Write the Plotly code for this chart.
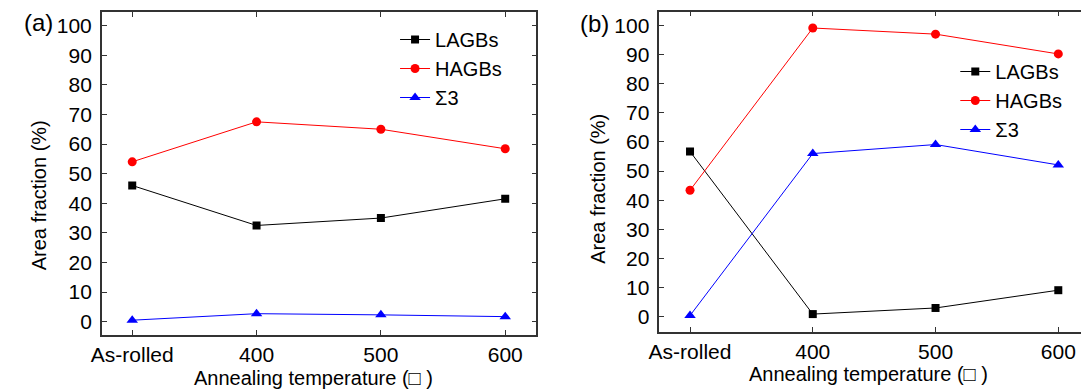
import plotly.graph_objects as go

categories = ["As-rolled", "400", "500", "600"]

a_lagbs = [46.0, 32.5, 35.0, 41.5]
a_hagbs = [54.0, 67.5, 65.0, 58.4]
a_sigma3 = [0.5, 2.7, 2.3, 1.7]

b_lagbs = [56.7, 0.9, 3.0, 9.1]
b_hagbs = [43.4, 99.1, 97.0, 90.2]
b_sigma3 = [0.4, 56.0, 59.1, 52.1]

yticks = [0, 10, 20, 30, 40, 50, 60, 70, 80, 90, 100]

W, H = 1081, 392
FONT = "Liberation Sans, Arial, sans-serif"

fig = go.Figure()

series = [
    ("LAGBs", "black", "square", 8),
    ("HAGBs", "red", "circle", 9),
    ("Σ3", "blue", "triangle-up", 10),
]

for (name, color, sym, ms), vals in zip(series, [a_lagbs, a_hagbs, a_sigma3]):
    fig.add_trace(go.Scatter(x=categories, y=vals, mode="lines+markers", name=name,
                             line=dict(color=color, width=1),
                             marker=dict(symbol=sym, size=ms, color=color),
                             xaxis="x", yaxis="y", legend="legend"))
for (name, color, sym, ms), vals in zip(series, [b_lagbs, b_hagbs, b_sigma3]):
    fig.add_trace(go.Scatter(x=categories, y=vals, mode="lines+markers", name=name,
                             line=dict(color=color, width=1),
                             marker=dict(symbol=sym, size=ms, color=color),
                             xaxis="x2", yaxis="y2", legend="legend2"))

axis_common = dict(showgrid=False, zeroline=False, showline=True, linecolor="#333",
                   linewidth=1.5, ticks="inside", ticklen=5, tickwidth=1.2, tickcolor="#333",
                   tickfont=dict(family=FONT, size=21, color="black"))

fig.update_layout(
    width=W, height=H,
    margin=dict(l=0, r=0, t=0, b=0),
    paper_bgcolor="white", plot_bgcolor="white",
    font=dict(family=FONT, size=20, color="black"),
    xaxis=dict(domain=[91.7 / W, 530.7 / W], anchor="y", type="category",
               range=[-0.245, 3.25], mirror="ticks", ticklabelstandoff=0, **axis_common),
    yaxis=dict(domain=[1 - 335 / H, 1 - 12 / H], anchor="x", range=[-4.5, 104.6],
               tickvals=yticks, mirror="ticks", ticklabelstandoff=4, **axis_common),
    xaxis2=dict(domain=[655 / W, 1.0], anchor="y2", type="category",
                range=[-0.25, 3.185], mirror="ticks", ticklabelstandoff=0, **axis_common),
    yaxis2=dict(domain=[1 - 332 / H, 1 - 11.7 / H], anchor="x2", range=[-5.25, 104.7],
                tickvals=yticks, mirror=False, ticklabelstandoff=4, **axis_common),
    legend=dict(x=388 / W, y=1 - 20 / H, xanchor="left", yanchor="top",
                bgcolor="rgba(0,0,0,0)", font=dict(family=FONT, size=20),
                tracegroupgap=0, itemwidth=30),
    legend2=dict(x=954 / W, y=1 - 52 / H, xanchor="left", yanchor="top",
                 bgcolor="rgba(0,0,0,0)", font=dict(family=FONT, size=20),
                 tracegroupgap=0, itemwidth=30),
    showlegend=True,
)

annots = [
    ("(a)", 27.5, 22.5, 0, 24),
    ("(b)", 590, 24, 0, 24),
    ("Area fraction (%)", 28, 195.6, -90, 20),
    ("Area fraction (%)", 593, 188.8, -90, 20),
    ("Annealing temperature (□ )", 305.6, 378, 0, 20),
    ("Annealing temperature (□ )", 866, 374, 0, 20),
]
for text, px, py, ang, size in annots:
    fig.add_annotation(xref="paper", yref="paper", showarrow=False,
                       xanchor="center", yanchor="middle",
                       x=px / W, y=1 - py / H, text=text, textangle=ang,
                       font=dict(family=FONT, size=size, color="black"))

fig.write_html("out.html")
